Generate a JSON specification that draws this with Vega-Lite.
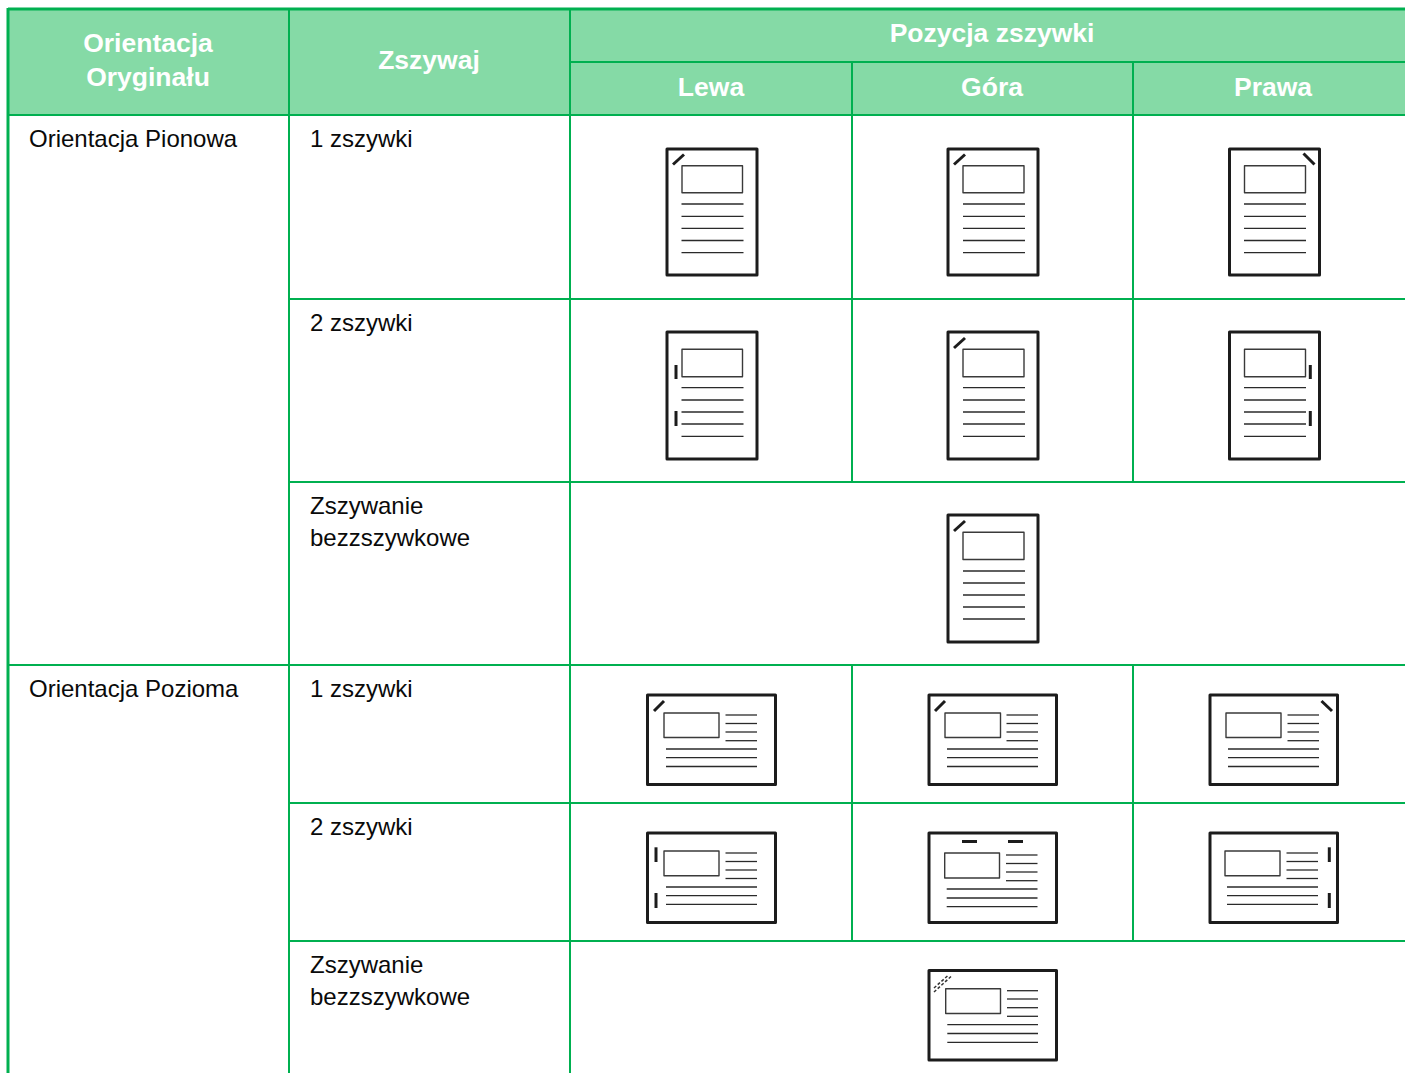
{"$schema":"https://vega.github.io/schema/vega-lite/v6.json","autosize":"none","width":1405,"height":1073,"padding":0,"background":"#ffffff","config":{"view":{"stroke":null}},
"resolve":{"scale":{"strokeWidth":"independent"}},
"datasets":{
"fill":[{"x":8,"x2":1405,"y":9,"y2":115}],
"grid":[
{"x":8,"x2":1405,"y":9,"y2":9,"k":"o"},{"x":570,"x2":1405,"y":62,"y2":62,"k":"i"},{"x":8,"x2":1405,"y":115,"y2":115,"k":"i"},{"x":289,"x2":1405,"y":299,"y2":299,"k":"i"},{"x":289,"x2":1405,"y":482,"y2":482,"k":"i"},{"x":8,"x2":1405,"y":665,"y2":665,"k":"i"},{"x":289,"x2":1405,"y":803,"y2":803,"k":"i"},{"x":289,"x2":1405,"y":941,"y2":941,"k":"i"},
{"x":8,"x2":8,"y":8,"y2":1073,"k":"o"},{"x":289,"x2":289,"y":9,"y2":1073,"k":"i"},{"x":570,"x2":570,"y":9,"y2":1073,"k":"i"},{"x":852,"x2":852,"y":62,"y2":482,"k":"i"},{"x":1133,"x2":1133,"y":62,"y2":482,"k":"i"},{"x":852,"x2":852,"y":665,"y2":941,"k":"i"},{"x":1133,"x2":1133,"y":665,"y2":941,"k":"i"}],
"rects":[
{"x":667,"x2":757,"y":149,"y2":275,"k":"page"},{"x":948,"x2":1038,"y":149,"y2":275,"k":"page"},{"x":1229.5,"x2":1319.5,"y":149,"y2":275,"k":"page"},
{"x":667,"x2":757,"y":332,"y2":459,"k":"page"},{"x":948,"x2":1038,"y":332,"y2":459,"k":"page"},{"x":1229.5,"x2":1319.5,"y":332,"y2":459,"k":"page"},
{"x":948,"x2":1038,"y":515,"y2":642,"k":"page"},
{"x":647.5,"x2":775.5,"y":695,"y2":784.5,"k":"page"},{"x":929,"x2":1056.5,"y":695,"y2":784.5,"k":"page"},{"x":1210,"x2":1337.5,"y":695,"y2":784.5,"k":"page"},
{"x":647.5,"x2":775.5,"y":833,"y2":922.5,"k":"page"},{"x":929,"x2":1056.5,"y":833,"y2":922.5,"k":"page"},{"x":1210,"x2":1337.5,"y":833,"y2":922.5,"k":"page"},
{"x":929,"x2":1056.5,"y":970.5,"y2":1060,"k":"page"},
{"x":682,"x2":742.5,"y":165.7,"y2":192.7,"k":"box"},{"x":963,"x2":1024,"y":165.7,"y2":192.7,"k":"box"},{"x":1244.5,"x2":1305.5,"y":165.7,"y2":192.7,"k":"box"},
{"x":682,"x2":742.5,"y":349.3,"y2":376.7,"k":"box"},{"x":963,"x2":1024,"y":349.3,"y2":376.7,"k":"box"},{"x":1244.5,"x2":1305.5,"y":349.3,"y2":376.7,"k":"box"},
{"x":963,"x2":1024,"y":532.3,"y2":559.5,"k":"box"},
{"x":664,"x2":719,"y":713,"y2":737.5,"k":"box"},{"x":945,"x2":1000.5,"y":713,"y2":737.5,"k":"box"},{"x":1226,"x2":1281,"y":713,"y2":737.5,"k":"box"},
{"x":664,"x2":719,"y":851,"y2":875.7,"k":"box"},{"x":944.7,"x2":999.5,"y":853,"y2":878,"k":"box"},{"x":1225,"x2":1280,"y":851,"y2":875.7,"k":"box"},
{"x":945.7,"x2":1000.5,"y":988.7,"y2":1013.5,"k":"box"}],
"lines":[
{"x":681.5,"x2":743.5,"y":204,"y2":204,"k":"t"},{"x":681.5,"x2":743.5,"y":216.3,"y2":216.3,"k":"t"},{"x":681.5,"x2":743.5,"y":228.3,"y2":228.3,"k":"t"},{"x":681.5,"x2":743.5,"y":240.5,"y2":240.5,"k":"t"},{"x":681.5,"x2":743.5,"y":252.7,"y2":252.7,"k":"t"},
{"x":963,"x2":1025,"y":204,"y2":204,"k":"t"},{"x":963,"x2":1025,"y":216.3,"y2":216.3,"k":"t"},{"x":963,"x2":1025,"y":228.3,"y2":228.3,"k":"t"},{"x":963,"x2":1025,"y":240.5,"y2":240.5,"k":"t"},{"x":963,"x2":1025,"y":252.7,"y2":252.7,"k":"t"},
{"x":1244,"x2":1306,"y":204,"y2":204,"k":"t"},{"x":1244,"x2":1306,"y":216.3,"y2":216.3,"k":"t"},{"x":1244,"x2":1306,"y":228.3,"y2":228.3,"k":"t"},{"x":1244,"x2":1306,"y":240.5,"y2":240.5,"k":"t"},{"x":1244,"x2":1306,"y":252.7,"y2":252.7,"k":"t"},
{"x":681.5,"x2":743.5,"y":387.7,"y2":387.7,"k":"t"},{"x":681.5,"x2":743.5,"y":400,"y2":400,"k":"t"},{"x":681.5,"x2":743.5,"y":412,"y2":412,"k":"t"},{"x":681.5,"x2":743.5,"y":424,"y2":424,"k":"t"},{"x":681.5,"x2":743.5,"y":436.3,"y2":436.3,"k":"t"},
{"x":963,"x2":1025,"y":387.7,"y2":387.7,"k":"t"},{"x":963,"x2":1025,"y":400,"y2":400,"k":"t"},{"x":963,"x2":1025,"y":412,"y2":412,"k":"t"},{"x":963,"x2":1025,"y":424,"y2":424,"k":"t"},{"x":963,"x2":1025,"y":436.3,"y2":436.3,"k":"t"},
{"x":1244,"x2":1306,"y":387.7,"y2":387.7,"k":"t"},{"x":1244,"x2":1306,"y":400,"y2":400,"k":"t"},{"x":1244,"x2":1306,"y":412,"y2":412,"k":"t"},{"x":1244,"x2":1306,"y":424,"y2":424,"k":"t"},{"x":1244,"x2":1306,"y":436.3,"y2":436.3,"k":"t"},
{"x":963,"x2":1025,"y":571,"y2":571,"k":"t"},{"x":963,"x2":1025,"y":583,"y2":583,"k":"t"},{"x":963,"x2":1025,"y":595,"y2":595,"k":"t"},{"x":963,"x2":1025,"y":607,"y2":607,"k":"t"},{"x":963,"x2":1025,"y":619,"y2":619,"k":"t"},
{"x":725.5,"x2":757,"y":715,"y2":715,"k":"t"},{"x":725.5,"x2":757,"y":723.5,"y2":723.5,"k":"t"},{"x":725.5,"x2":757,"y":732,"y2":732,"k":"t"},{"x":725.5,"x2":757,"y":740.7,"y2":740.7,"k":"t"},{"x":666,"x2":757,"y":749,"y2":749,"k":"t"},{"x":666,"x2":757,"y":757.7,"y2":757.7,"k":"t"},{"x":666,"x2":757,"y":766.5,"y2":766.5,"k":"t"},
{"x":1006.5,"x2":1038,"y":715,"y2":715,"k":"t"},{"x":1006.5,"x2":1038,"y":723.5,"y2":723.5,"k":"t"},{"x":1006.5,"x2":1038,"y":732,"y2":732,"k":"t"},{"x":1006.5,"x2":1038,"y":740.7,"y2":740.7,"k":"t"},{"x":947,"x2":1038,"y":749,"y2":749,"k":"t"},{"x":947,"x2":1038,"y":757.7,"y2":757.7,"k":"t"},{"x":947,"x2":1038,"y":766.5,"y2":766.5,"k":"t"},
{"x":1287.5,"x2":1319,"y":715,"y2":715,"k":"t"},{"x":1287.5,"x2":1319,"y":723.5,"y2":723.5,"k":"t"},{"x":1287.5,"x2":1319,"y":732,"y2":732,"k":"t"},{"x":1287.5,"x2":1319,"y":740.7,"y2":740.7,"k":"t"},{"x":1228,"x2":1319,"y":749,"y2":749,"k":"t"},{"x":1228,"x2":1319,"y":757.7,"y2":757.7,"k":"t"},{"x":1228,"x2":1319,"y":766.5,"y2":766.5,"k":"t"},
{"x":725.5,"x2":757,"y":853,"y2":853,"k":"t"},{"x":725.5,"x2":757,"y":861.5,"y2":861.5,"k":"t"},{"x":725.5,"x2":757,"y":870,"y2":870,"k":"t"},{"x":725.5,"x2":757,"y":878.5,"y2":878.5,"k":"t"},{"x":666,"x2":757,"y":887,"y2":887,"k":"t"},{"x":666,"x2":757,"y":895.7,"y2":895.7,"k":"t"},{"x":666,"x2":757,"y":904.3,"y2":904.3,"k":"t"},
{"x":1006,"x2":1037.5,"y":855,"y2":855,"k":"t"},{"x":1006,"x2":1037.5,"y":863.5,"y2":863.5,"k":"t"},{"x":1006,"x2":1037.5,"y":872,"y2":872,"k":"t"},{"x":1006,"x2":1037.5,"y":880.7,"y2":880.7,"k":"t"},{"x":946.7,"x2":1037.5,"y":889,"y2":889,"k":"t"},{"x":946.7,"x2":1037.5,"y":898,"y2":898,"k":"t"},{"x":946.7,"x2":1037.5,"y":906.6,"y2":906.6,"k":"t"},
{"x":1286.5,"x2":1318,"y":853,"y2":853,"k":"t"},{"x":1286.5,"x2":1318,"y":861.5,"y2":861.5,"k":"t"},{"x":1286.5,"x2":1318,"y":870,"y2":870,"k":"t"},{"x":1286.5,"x2":1318,"y":878.5,"y2":878.5,"k":"t"},{"x":1227,"x2":1318,"y":887,"y2":887,"k":"t"},{"x":1227,"x2":1318,"y":895.7,"y2":895.7,"k":"t"},{"x":1227,"x2":1318,"y":904.3,"y2":904.3,"k":"t"},
{"x":1007,"x2":1038,"y":990.7,"y2":990.7,"k":"t"},{"x":1007,"x2":1038,"y":999,"y2":999,"k":"t"},{"x":1007,"x2":1038,"y":1007.7,"y2":1007.7,"k":"t"},{"x":1007,"x2":1038,"y":1016.3,"y2":1016.3,"k":"t"},{"x":947.3,"x2":1038,"y":1024.7,"y2":1024.7,"k":"t"},{"x":947.3,"x2":1038,"y":1033.5,"y2":1033.5,"k":"t"},{"x":947.3,"x2":1038,"y":1042.3,"y2":1042.3,"k":"t"},
{"x":673,"x2":684,"y":164.5,"y2":154.5,"k":"s"},{"x":954,"x2":965,"y":164.5,"y2":154.5,"k":"s"},{"x":1303.5,"x2":1314.5,"y":153.5,"y2":164.5,"k":"s"},{"x":954,"x2":965,"y":348,"y2":338,"k":"s"},{"x":954,"x2":965,"y":531,"y2":521,"k":"s"},
{"x":676,"x2":676,"y":365,"y2":379,"k":"s"},{"x":676,"x2":676,"y":411,"y2":426,"k":"s"},{"x":1310.3,"x2":1310.3,"y":365,"y2":379,"k":"s"},{"x":1310.3,"x2":1310.3,"y":411,"y2":426,"k":"s"},
{"x":654,"x2":664,"y":711,"y2":701,"k":"s"},{"x":935,"x2":945,"y":711,"y2":701,"k":"s"},{"x":1321.5,"x2":1332,"y":701,"y2":711,"k":"s"},
{"x":656,"x2":656,"y":847.3,"y2":862,"k":"s"},{"x":656,"x2":656,"y":893,"y2":908,"k":"s"},{"x":1329.3,"x2":1329.3,"y":847.3,"y2":862,"k":"s"},{"x":1329.3,"x2":1329.3,"y":893,"y2":908,"k":"s"},
{"x":962,"x2":977,"y":841.5,"y2":841.5,"k":"s"},{"x":1008,"x2":1023,"y":841.5,"y2":841.5,"k":"s"}],
"dashes":[{"x":934,"x2":948,"y":988,"y2":975.5},{"x":934,"x2":951,"y":992,"y2":976.5}],
"head":[
{"t":"Orientacja","x":148,"y":52},{"t":"Oryginału","x":148,"y":86},{"t":"Zszywaj","x":429,"y":69},{"t":"Pozycja zszywki","x":992,"y":42},{"t":"Lewa","x":711,"y":96},{"t":"Góra","x":992,"y":96},{"t":"Prawa","x":1273,"y":96}],
"body":[
{"t":"Orientacja Pionowa","x":29,"y":147},{"t":"1 zszywki","x":310,"y":147},{"t":"2 zszywki","x":310,"y":331},{"t":"Zszywanie","x":310,"y":514},{"t":"bezzszywkowe","x":310,"y":546},
{"t":"Orientacja Pozioma","x":29,"y":697},{"t":"1 zszywki","x":310,"y":697},{"t":"2 zszywki","x":310,"y":835},{"t":"Zszywanie","x":310,"y":973},{"t":"bezzszywkowe","x":310,"y":1005}]
},
"encoding":{
"x":{"field":"x","type":"quantitative","scale":{"domain":[0,1405]},"axis":null},
"y":{"field":"y","type":"quantitative","scale":{"domain":[1073,0]},"axis":null}},
"layer":[
{"data":{"name":"fill"},"mark":{"type":"rect","fill":"#85daa6","stroke":null},"encoding":{"x2":{"field":"x2"},"y2":{"field":"y2"}}},
{"data":{"name":"grid"},"mark":{"type":"rule","stroke":"#00b050"},"encoding":{"x2":{"field":"x2"},"y2":{"field":"y2"},
"strokeWidth":{"field":"k","type":"nominal","scale":{"type":"ordinal","domain":["o","i"],"range":[3,2]},"legend":null}}},
{"data":{"name":"rects"},"mark":{"type":"rect","fill":null,"strokeJoin":"round"},"encoding":{"x2":{"field":"x2"},"y2":{"field":"y2"},
"stroke":{"field":"k","type":"nominal","scale":{"type":"ordinal","domain":["page","box"],"range":["#1c1c1c","#3a3a3a"]},"legend":null},
"strokeWidth":{"field":"k","type":"nominal","scale":{"type":"ordinal","domain":["page","box"],"range":[3,1.4]},"legend":null}}},
{"data":{"name":"lines"},"mark":{"type":"rule"},"encoding":{"x2":{"field":"x2"},"y2":{"field":"y2"},
"color":{"field":"k","type":"nominal","scale":{"type":"ordinal","domain":["t","s"],"range":["#2a2a2a","#1c1c1c"]},"legend":null},
"strokeWidth":{"field":"k","type":"nominal","scale":{"type":"ordinal","domain":["t","s"],"range":[1.3,3]},"legend":null}}},
{"data":{"name":"dashes"},"mark":{"type":"rule","stroke":"#333333","strokeWidth":1.5,"strokeDash":[3,2]},"encoding":{"x2":{"field":"x2"},"y2":{"field":"y2"}}},
{"data":{"name":"head"},"mark":{"type":"text","font":"Liberation Sans","fontWeight":"bold","fontSize":26.5,"fill":"#ffffff","align":"center","baseline":"alphabetic"},"encoding":{"text":{"field":"t"}}},
{"data":{"name":"body"},"mark":{"type":"text","font":"Liberation Sans","fontSize":24,"fill":"#0a0a0a","align":"left","baseline":"alphabetic"},"encoding":{"text":{"field":"t"}}}
]}
